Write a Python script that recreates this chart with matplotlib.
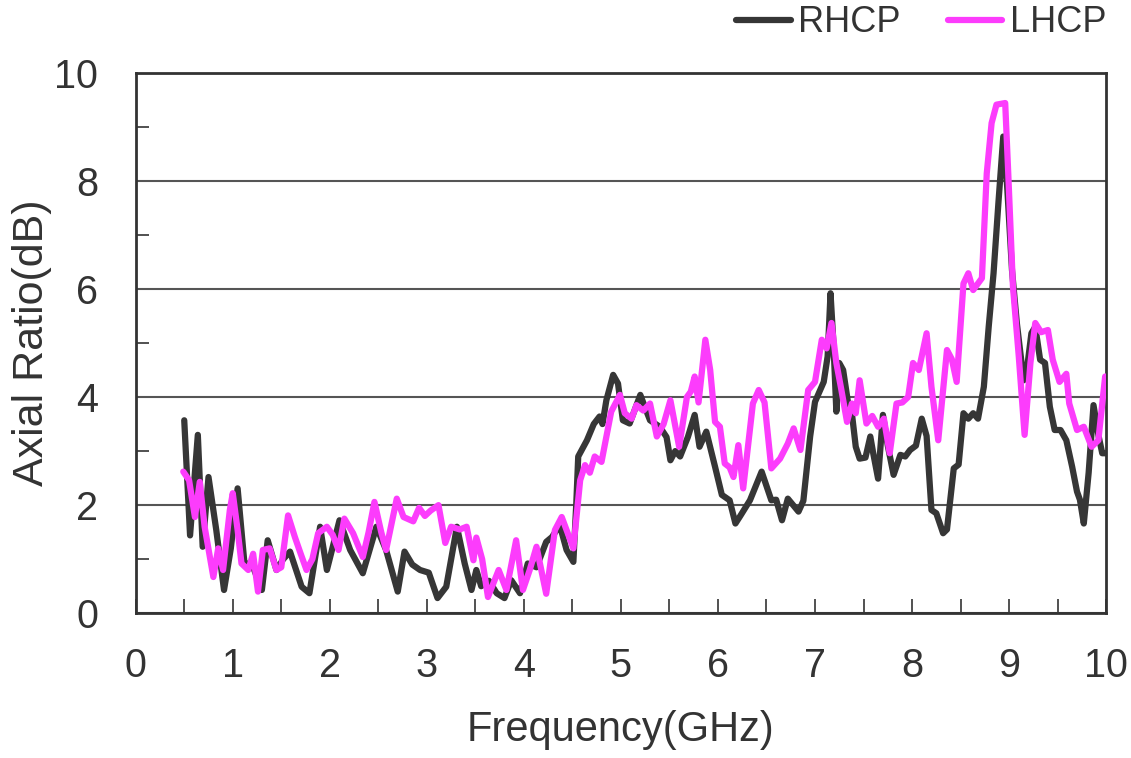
import matplotlib
matplotlib.use("Agg")
import matplotlib.pyplot as plt
from matplotlib.ticker import MultipleLocator

rhcp_freq = [0.50, 0.56, 0.64, 0.69, 0.75, 0.83, 0.91, 0.98, 1.05, 1.12, 1.20, 1.30, 1.36, 1.45, 1.52,
             1.59, 1.71, 1.79, 1.90, 1.97, 2.10, 2.21, 2.34, 2.48, 2.58, 2.70, 2.77, 2.85, 2.93, 3.02,
             3.11, 3.20, 3.31, 3.39, 3.46, 3.51, 3.56, 3.64, 3.72, 3.80, 3.87, 3.96, 4.04, 4.13, 4.23,
             4.29, 4.37, 4.44, 4.51, 4.54, 4.56, 4.65, 4.72, 4.78, 4.81, 4.85, 4.92, 4.97, 5.02, 5.09,
             5.20, 5.25, 5.30, 5.40, 5.47, 5.51, 5.56, 5.61, 5.69, 5.76, 5.81, 5.88, 5.97, 6.04, 6.12,
             6.18, 6.23, 6.33, 6.45, 6.55, 6.60, 6.66, 6.72, 6.83, 6.88, 6.95, 7.00, 7.09, 7.13, 7.16,
             7.19, 7.22, 7.25, 7.29, 7.34, 7.38, 7.42, 7.46, 7.52, 7.57, 7.60, 7.65, 7.70, 7.75, 7.81,
             7.88, 7.93, 7.98, 8.04, 8.10, 8.15, 8.20, 8.25, 8.32, 8.36, 8.43, 8.48, 8.53, 8.58, 8.63,
             8.68, 8.74, 8.79, 8.84, 8.89, 8.94, 8.98, 9.03, 9.08, 9.15, 9.19, 9.23, 9.27, 9.32, 9.37,
             9.42, 9.47, 9.53, 9.59, 9.65, 9.70, 9.73, 9.77, 9.82, 9.87, 9.92, 9.96, 10.0]
rhcp_ar = [3.57, 1.44, 3.30, 1.23, 2.52, 1.54, 0.43, 1.20, 2.31, 0.93, 0.90, 0.43, 1.35, 0.80, 1.00,
           1.14, 0.49, 0.37, 1.60, 0.80, 1.72, 1.17, 0.74, 1.60, 1.17, 0.40, 1.14, 0.90, 0.80, 0.75,
           0.28, 0.49, 1.60, 0.92, 0.43, 0.80, 0.50, 0.60, 0.37, 0.28, 0.61, 0.37, 0.92, 0.85, 1.32,
           1.41, 1.63, 1.17, 0.95, 2.03, 2.90, 3.20, 3.50, 3.64, 3.50, 3.94, 4.41, 4.25, 3.57, 3.51,
           4.04, 3.80, 3.57, 3.45, 3.26, 2.83, 3.00, 2.90, 3.26, 3.67, 3.08, 3.36, 2.71, 2.19, 2.09,
           1.66, 1.80, 2.09, 2.62, 2.09, 2.10, 1.72, 2.12, 1.88, 2.08, 3.27, 3.91, 4.28, 4.75, 5.92,
           5.00, 3.73, 4.63, 4.50, 3.90, 3.70, 3.08, 2.86, 2.88, 3.27, 2.96, 2.49, 3.67, 3.10, 2.56,
           2.93, 2.90, 3.02, 3.10, 3.60, 3.28, 1.91, 1.85, 1.48, 1.55, 2.68, 2.75, 3.70, 3.60, 3.70,
           3.60, 4.19, 5.30, 6.29, 7.59, 8.82, 7.90, 6.35, 5.37, 4.31, 4.60, 5.18, 5.30, 4.69, 4.63,
           3.82, 3.39, 3.39, 3.20, 2.71, 2.25, 2.10, 1.66, 2.60, 3.85, 3.30, 2.96, 2.96]

lhcp_freq = [0.49, 0.55, 0.61, 0.66, 0.71, 0.80, 0.85, 0.90, 0.97, 1.00, 1.05, 1.09, 1.16, 1.21, 1.26,
             1.31, 1.38, 1.45, 1.50, 1.57, 1.64, 1.70, 1.76, 1.82, 1.88, 1.97, 2.03, 2.09, 2.15, 2.24,
             2.34, 2.40, 2.46, 2.53, 2.58, 2.69, 2.76, 2.86, 2.92, 2.98, 3.04, 3.12, 3.19, 3.25, 3.34,
             3.41, 3.48, 3.51, 3.57, 3.63, 3.74, 3.82, 3.92, 3.99, 4.06, 4.13, 4.23, 4.32, 4.39, 4.44,
             4.51, 4.58, 4.63, 4.68, 4.73, 4.80, 4.85, 4.90, 4.99, 5.04, 5.11, 5.16, 5.23, 5.30, 5.37,
             5.44, 5.51, 5.60, 5.68, 5.72, 5.76, 5.80, 5.87, 5.92, 5.97, 6.02, 6.07, 6.12, 6.16, 6.21,
             6.26, 6.36, 6.42, 6.48, 6.55, 6.64, 6.72, 6.78, 6.85, 6.93, 7.00, 7.07, 7.12, 7.17, 7.22,
             7.27, 7.33, 7.38, 7.42, 7.46, 7.53, 7.59, 7.65, 7.71, 7.77, 7.84, 7.90, 7.96, 8.01, 8.07,
             8.15, 8.20, 8.27, 8.36, 8.41, 8.46, 8.53, 8.58, 8.63, 8.72, 8.77, 8.82, 8.87, 8.96, 8.99,
             9.04, 9.10, 9.16, 9.22, 9.27, 9.33, 9.40, 9.45, 9.52, 9.59, 9.62, 9.70, 9.77, 9.85, 9.92,
             9.99]
lhcp_ar = [2.62, 2.46, 1.78, 2.43, 1.60, 0.67, 1.20, 0.80, 1.91, 2.22, 1.54, 0.92, 0.80, 1.10, 0.40,
           1.17, 1.20, 0.80, 0.85, 1.81, 1.41, 1.10, 0.80, 1.00, 1.48, 1.60, 1.45, 1.17, 1.75, 1.48,
           1.04, 1.50, 2.06, 1.50, 1.17, 2.12, 1.78, 1.70, 1.95, 1.80, 1.90, 2.00, 1.30, 1.60, 1.55,
           1.60, 0.98, 1.40, 1.00, 0.30, 0.80, 0.43, 1.35, 0.43, 0.80, 1.23, 0.36, 1.54, 1.78, 1.54,
           1.20, 2.46, 2.74, 2.60, 2.90, 2.80, 3.27, 3.73, 4.04, 3.70, 3.60, 3.85, 3.75, 3.88, 3.27,
           3.50, 3.94, 3.08, 4.00, 4.10, 4.38, 3.90, 5.06, 4.50, 3.54, 3.45, 2.77, 2.70, 2.52, 3.11,
           2.31, 3.88, 4.13, 3.90, 2.68, 2.86, 3.14, 3.42, 3.02, 4.13, 4.28, 5.06, 4.90, 5.37, 4.63,
           4.15, 3.54, 3.88, 3.70, 4.31, 3.51, 3.65, 3.45, 3.60, 2.96, 3.88, 3.90, 4.00, 4.63, 4.50,
           5.18, 4.19, 3.20, 4.87, 4.70, 4.28, 6.10, 6.29, 5.98, 6.20, 8.14, 9.07, 9.41, 9.44, 8.20,
           6.04, 4.75, 3.30, 4.63, 5.37, 5.20, 5.24, 4.69, 4.28, 4.43, 3.88, 3.39, 3.45, 3.08, 3.20,
           4.38]

x_ticks = [0, 1, 2, 3, 4, 5, 6, 7, 8, 9, 10]
y_ticks = [0, 2, 4, 6, 8, 10]

plt.rcParams['font.family'] = ['Liberation Sans', 'DejaVu Sans']

fig = plt.figure(figsize=(11.31, 7.58), dpi=100)
ax = fig.add_axes([0.120, 0.191, 0.858, 0.713])

ax.plot(rhcp_freq, rhcp_ar, color='#363636', lw=4.5, solid_joinstyle='round',
        solid_capstyle='round', label='RHCP', zorder=3)
ax.plot(lhcp_freq, lhcp_ar, color='#fc3cfc', lw=4.5, solid_joinstyle='round',
        solid_capstyle='round', label='LHCP', zorder=4)

ax.set_xlim(0, 10)
ax.set_ylim(0, 10)
ax.set_xticks(x_ticks)
ax.set_yticks(y_ticks)
ax.xaxis.set_minor_locator(MultipleLocator(0.5))
ax.yaxis.set_minor_locator(MultipleLocator(1))
ax.tick_params(axis='x', which='both', direction='in', length=10, width=1.2, colors='#333333',
               labelsize=28.5, labelcolor='#333333', pad=24)
ax.tick_params(axis='y', which='major', length=0, labelsize=28.5, labelcolor='#333333', pad=27)
ax.tick_params(axis='y', which='minor', direction='in', length=9, width=1.2, colors='#333333')
ax.grid(axis='y', which='major', color='#555555', lw=1.5)
for s in ax.spines.values():
    s.set_color('#333333')
    s.set_linewidth(2)

ax.set_xlabel('Frequency(GHz)', fontsize=30, color='#333333', labelpad=18)
ax.set_ylabel('Axial Ratio(dB)', fontsize=31, color='#333333', labelpad=2)

fig.legend(loc='center right', bbox_to_anchor=(0.978, 0.970), ncol=2, frameon=False,
           fontsize=26, handlelength=1.52, handletextpad=0.2, columnspacing=1.3,
           labelcolor='#333333', borderaxespad=0, borderpad=0)

fig.savefig('out.png', dpi=100)
